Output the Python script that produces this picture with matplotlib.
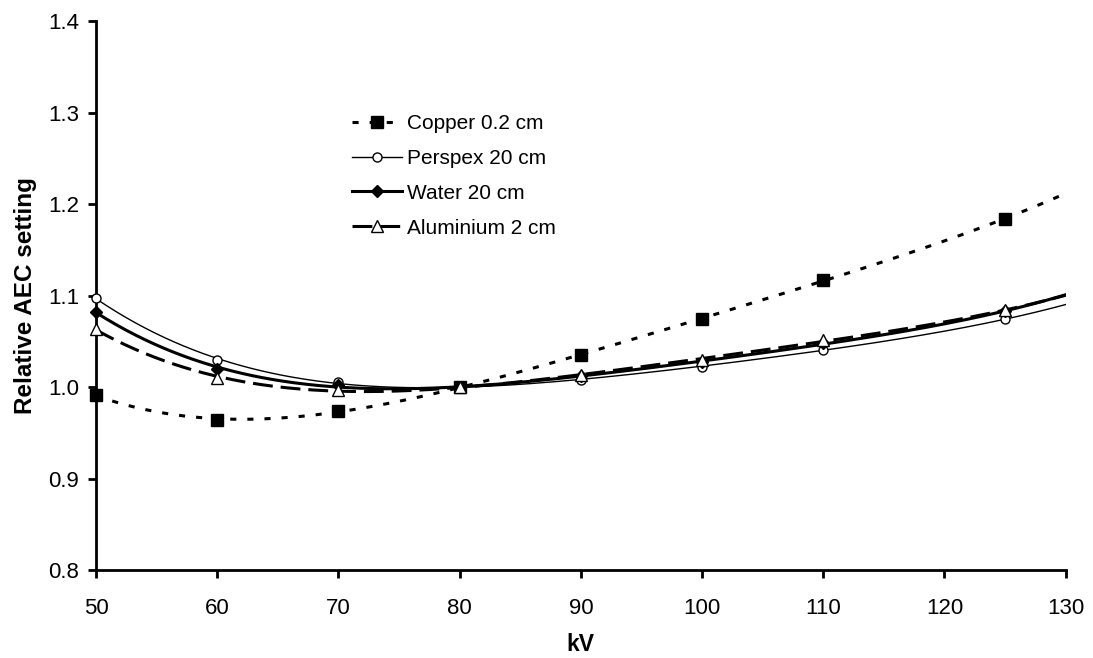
import matplotlib
matplotlib.use('Agg')
import matplotlib.pyplot as plt
import numpy as np
from matplotlib.legend_handler import HandlerTuple

plt.rcParams['font.family'] = ['Liberation Sans', 'DejaVu Sans']

kv = [50, 60, 70, 80, 90, 100, 110, 125]
copper = [0.991, 0.964, 0.974, 1.000, 1.035, 1.074, 1.117, 1.184]
perspex = [1.097, 1.030, 1.005, 1.000, 1.008, 1.022, 1.041, 1.074]
water = [1.082, 1.020, 1.002, 1.000, 1.012, 1.027, 1.048, 1.083]
aluminium = [1.063, 1.010, 0.997, 1.000, 1.013, 1.030, 1.051, 1.084]
labels = ['Copper 0.2 cm', 'Perspex 20 cm', 'Water 20 cm', 'Aluminium 2 cm']

fig = plt.figure(figsize=(10.93, 6.58), dpi=100)
ax = fig.add_axes([0.0878, 0.1337, 0.8872, 0.8343])

# series style: (values, line kwargs, marker kwargs)
styles = [
    (copper, dict(lw=2.2, dashes=(2.0, 3.6)),
     dict(marker='s', ms=8, mfc='black', mec='black')),
    (perspex, dict(lw=1.0, ls='-'),
     dict(marker='o', ms=6.5, mfc='white', mec='black', mew=1.0)),
    (water, dict(lw=2.2, ls='-'),
     dict(marker='D', ms=6, mfc='black', mec='black')),
    (aluminium, dict(lw=2.2, dashes=(6.5, 2.6)),
     dict(marker='^', ms=8, mfc='white', mec='black', mew=1.0)),
]

xs = np.linspace(50, 130, 300)
handles = []
for vals, lkw, mkw in styles:
    # polynomial trendline through the measured points
    coef = np.polyfit(kv, vals, 4)
    ln, = ax.plot(xs, np.polyval(coef, xs), color='black', zorder=2, **lkw)
    pts, = ax.plot(kv, vals, ls='none', zorder=3, clip_on=False, **mkw)
    handles.append((ln, pts))

ax.set_xlim(50, 130)
ax.set_ylim(0.8, 1.4)
ax.set_xticks(np.arange(50, 131, 10))
ax.set_yticks(np.arange(0.8, 1.41, 0.1))
ax.set_yticklabels(['%.1f' % v for v in np.arange(0.8, 1.41, 0.1)])
ax.spines['top'].set_visible(False)
ax.spines['right'].set_visible(False)
ax.spines['left'].set_linewidth(2)
ax.spines['bottom'].set_linewidth(2)
ax.tick_params(axis='both', direction='out', width=2, labelsize=16)
ax.tick_params(axis='y', length=6, pad=6)
ax.tick_params(axis='x', length=6, pad=14)

ax.set_xlabel('kV', fontsize=16.5, fontweight='bold', labelpad=10)
ax.set_ylabel('Relative AEC setting', fontsize=17.5, fontweight='bold', labelpad=8)

ax.legend(handles, labels, handler_map={tuple: HandlerTuple(ndivide=1, pad=0)},
          loc='upper left', bbox_to_anchor=(352/1093, 1-114/658),
          bbox_transform=fig.transFigure, frameon=False, fontsize=15,
          handlelength=2.4, handletextpad=0.25, labelspacing=0.76,
          borderpad=0, borderaxespad=0)

fig.savefig('out.png', dpi=100)
